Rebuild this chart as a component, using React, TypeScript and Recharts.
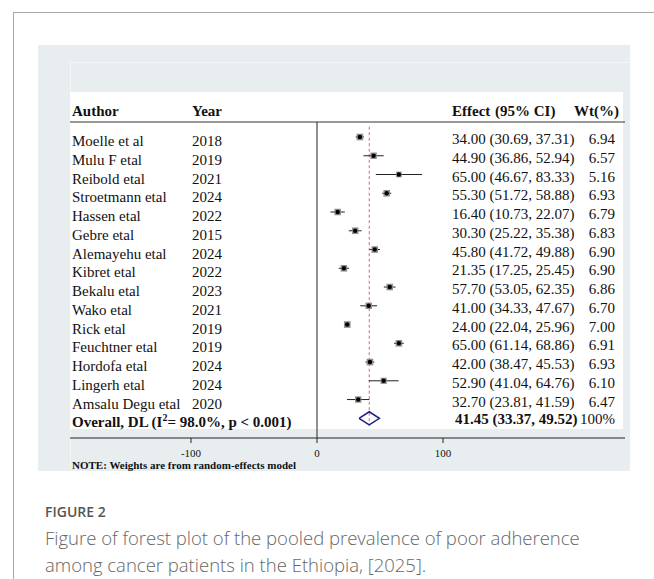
import { ErrorBar, ReferenceLine, Scatter, ScatterChart, XAxis, YAxis } from 'recharts'

const AUTHORS = [
  'Moelle et al', 'Mulu F etal', 'Reibold etal', 'Stroetmann etal', 'Hassen etal',
  'Gebre etal', 'Alemayehu etal', 'Kibret etal', 'Bekalu etal', 'Wako etal',
  'Rick etal', 'Feuchtner etal', 'Hordofa etal', 'Lingerh etal', 'Amsalu Degu etal',
]
const YEARS = [2018, 2019, 2021, 2024, 2022, 2015, 2024, 2022, 2023, 2021, 2019, 2019, 2024, 2024, 2020]
const EFFECTS = [34.0, 44.9, 65.0, 55.3, 16.4, 30.3, 45.8, 21.35, 57.7, 41.0, 24.0, 65.0, 42.0, 52.9, 32.7]
const LOWER = [30.69, 36.86, 46.67, 51.72, 10.73, 25.22, 41.72, 17.25, 53.05, 34.33, 22.04, 61.14, 38.47, 41.04, 23.81]
const UPPER = [37.31, 52.94, 83.33, 58.88, 22.07, 35.38, 49.88, 25.45, 62.35, 47.67, 25.96, 68.86, 45.53, 64.76, 41.59]
const WEIGHTS = [6.94, 6.57, 5.16, 6.93, 6.79, 6.83, 6.9, 6.9, 6.86, 6.7, 7.0, 6.91, 6.93, 6.1, 6.47]

const OVERALL_ES = 41.45
const OVERALL_LO = 33.37
const OVERALL_HI = 49.52
const X_TICKS = [-100, 0, 100]

const SERIF = '"Liberation Serif", "Times New Roman", serif'
const INK = '#111'
const NAVY = '#1f1f8c'
const COL_AUTHOR = 72
const COL_YEAR = 192
const COL_ES = 452
const COL_WT = 615

type Study = { author: string; year: number; x: number; y: number; wt: number; lo: number; hi: number; err: [number, number] }

const studies: Study[] = AUTHORS.map((author, i) => ({
  author,
  year: YEARS[i],
  x: EFFECTS[i],
  y: i,
  wt: WEIGHTS[i],
  lo: LOWER[i],
  hi: UPPER[i],
  err: [EFFECTS[i] - LOWER[i], UPPER[i] - EFFECTS[i]],
}))

const overallRow = AUTHORS.length
// contorno del diamante: punta sx, alto, punta dx, basso, ritorno
const diamond = [
  { x: OVERALL_LO, y: overallRow },
  { x: OVERALL_ES, y: overallRow - 0.35 },
  { x: OVERALL_HI, y: overallRow },
  { x: OVERALL_ES, y: overallRow + 0.35 },
  { x: OVERALL_LO, y: overallRow },
]

const fmt = (v: number) => v.toFixed(2)

function StudyMark(props: { cx?: number; cy?: number; payload?: Study }) {
  const { cx = 0, cy = 0, payload } = props
  if (!payload) return <g />
  const side = 2.5 * Math.sqrt(payload.wt)
  return (
    <g>
      <rect x={cx - side / 2} y={cy - side / 2} width={side} height={side} fill="#8e8e8e" />
      <circle cx={cx} cy={cy} r={2.2} fill="#000" />
      <text x={COL_AUTHOR} y={cy + 9} fontFamily={SERIF} fontSize={15} fill={INK}>{payload.author}</text>
      <text x={COL_YEAR} y={cy + 9} fontFamily={SERIF} fontSize={15} fill={INK}>{payload.year}</text>
      <text x={COL_ES} y={cy + 7} fontFamily={SERIF} fontSize={15} fill={INK}>
        {`${fmt(payload.x)} (${fmt(payload.lo)}, ${fmt(payload.hi)})`}
      </text>
      <text x={COL_WT} y={cy + 7} textAnchor="end" fontFamily={SERIF} fontSize={15} fill={INK}>{fmt(payload.wt)}</text>
    </g>
  )
}

function OverallLabel(props: { cy?: number }) {
  const { cy = 0 } = props
  return (
    <g fontFamily={SERIF} fontSize={15} fill={INK}>
      <text x={COL_AUTHOR} y={cy + 9} fontWeight={700}>
        Overall, DL (I<tspan dy={-6} fontSize={10}>2</tspan><tspan dy={6}>= 98.0%, p &lt; 0.001)</tspan>
      </text>
      <text x={COL_ES + 3} y={cy + 6} fontWeight={700}>{`${fmt(OVERALL_ES)} (${fmt(OVERALL_LO)}, ${fmt(OVERALL_HI)})`}</text>
      <text x={COL_WT} y={cy + 6} textAnchor="end">100%</text>
    </g>
  )
}

function XTick(props: { x?: number; y?: number; payload?: { value: number } }) {
  const { x = 0, y = 0, payload } = props
  if (!payload) return null
  return (
    <text x={x} y={y + 12} textAnchor="middle" fontFamily={SERIF} fontSize={11} fill={INK}>
      {payload.value}
    </text>
  )
}

export default function App() {
  return (
    <div style={{ position: 'absolute', left: 0, top: 0, width: 654, height: 579, background: '#fff', overflow: 'hidden' }}>
      {/* cornice pagina */}
      <div style={{ position: 'absolute', left: 13, top: 12, right: 0, bottom: 0, borderLeft: '1px solid #a8a8a8', borderTop: '1px solid #a8a8a8' }} />
      {/* regione grafico */}
      <div style={{ position: 'absolute', left: 38, top: 45, width: 592, height: 426, background: '#e8eef0' }} />
      <div style={{ position: 'absolute', left: 70, top: 62, width: 560, height: 409, borderTop: '1px solid #f3f6f7', borderLeft: '1px solid #f3f6f7' }} />
      <div style={{ position: 'absolute', left: 70, top: 92, width: 553, height: 337, background: '#fff' }} />

      <div style={{ position: 'absolute', left: 0, top: 0 }}>
        <ScatterChart width={654} height={579} margin={{ top: 122, right: 29, bottom: 121, left: 70 }}>
          <XAxis
            type="number"
            dataKey="x"
            domain={[-196, 244.4]}
            allowDataOverflow
            ticks={X_TICKS}
            interval={0}
            height={20}
            tickSize={5}
            axisLine={{ stroke: '#222' }}
            tickLine={{ stroke: '#222' }}
            tick={<XTick />}
          />
          <YAxis type="number" dataKey="y" domain={[-0.8, 16.05]} allowDataOverflow reversed hide />
          <ReferenceLine y={-0.8} stroke="#333" strokeWidth={1} />
          <ReferenceLine x={0} stroke="#222" strokeWidth={1} />
          <ReferenceLine
            segment={[{ x: OVERALL_ES, y: -0.55 }, { x: OVERALL_ES, y: 15.4 }]}
            stroke="#cc6f6f"
            strokeDasharray="3 2.5"
            strokeWidth={1}
          />
          <Scatter data={studies} shape={<StudyMark />} isAnimationActive={false}>
            <ErrorBar dataKey="err" direction="x" width={0} stroke="#222" strokeWidth={1} />
          </Scatter>
          <Scatter
            data={diamond}
            line={{ stroke: NAVY, strokeWidth: 1.5 }}
            lineType="joint"
            shape={() => <g />}
            isAnimationActive={false}
          />
          <Scatter data={[{ x: OVERALL_ES, y: overallRow }]} shape={<OverallLabel />} isAnimationActive={false} />
        </ScatterChart>
      </div>

      <svg width={654} height={579} style={{ position: 'absolute', left: 0, top: 0, pointerEvents: 'none' }}>
        <g fontFamily={SERIF} fontSize={15} fontWeight={700} fill={INK}>
          <text x={COL_AUTHOR} y={116}>Author</text>
          <text x={COL_YEAR} y={116}>Year</text>
          <text x={COL_ES} y={116}>Effect</text>
          <text x={495} y={116}>(95% CI)</text>
          <text x={619} y={116} textAnchor="end">Wt(%)</text>
        </g>
        <text x={72} y={469} fontFamily={SERIF} fontSize={11} fontWeight={700} fill={INK}>
          NOTE: Weights are from random-effects model
        </text>
      </svg>

      <div style={{ position: 'absolute', left: 45, top: 502, font: '600 14px "Open Sans", sans-serif', color: '#555', lineHeight: '20px' }}>
        FIGURE 2
      </div>
      <div style={{ position: 'absolute', left: 45, top: 524, font: '300 18.5px "Open Sans", sans-serif', color: '#666', lineHeight: '27px', whiteSpace: 'nowrap' }}>
        Figure of forest plot of the pooled prevalence of poor adherence
        <br />
        among cancer patients in the Ethiopia, [2025].
      </div>
    </div>
  )
}
